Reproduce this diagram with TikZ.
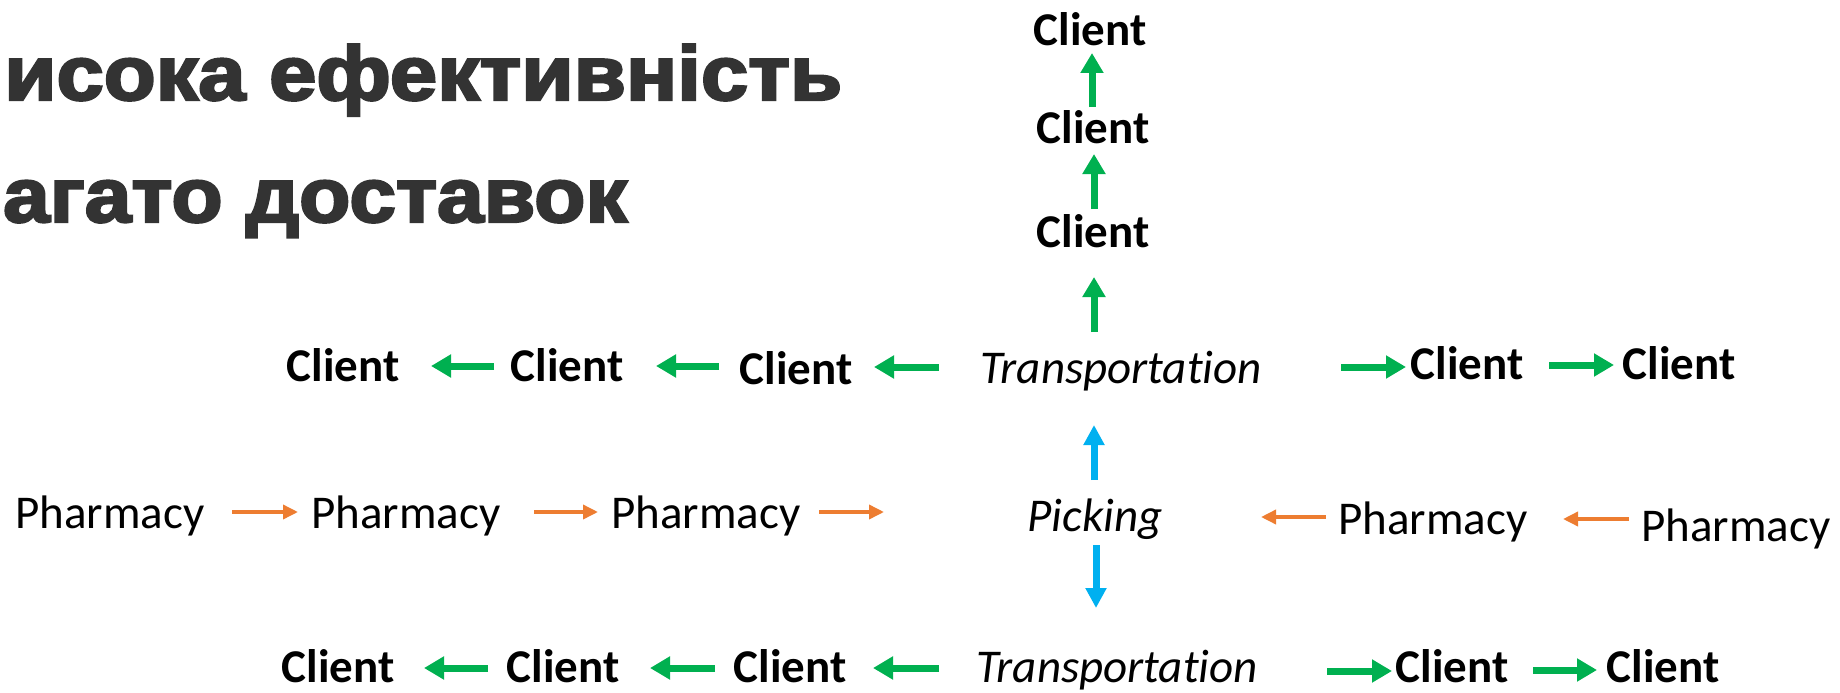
\documentclass[tikz,border=0pt]{standalone}
\usepackage{graphicx}
\usepackage{fontspec}
\setmainfont{Carlito}[Ligatures=NoCommon]
\newfontfamily\titlefont{Liberation Sans}[BoldFeatures={FakeBold=3}]
\usetikzlibrary{arrows.meta}
\definecolor{cgreen}{HTML}{00B050}
\definecolor{cblue}{HTML}{00B0F0}
\definecolor{corange}{HTML}{ED7D31}
\definecolor{ctitle}{HTML}{333333}
\begin{document}
\begin{tikzpicture}[x=1pt,y=-1pt,
  lbl/.style={inner sep=0pt, anchor=base, font=\fontsize{47}{56}\selectfont},
  cl/.style={inner sep=0pt, anchor=base, font=\fontsize{47}{56}\selectfont\bfseries},
  it/.style={inner sep=0pt, anchor=base, font=\fontsize{47}{56}\selectfont\itshape},
  ttl/.style={inner sep=0pt, anchor=base west, text=ctitle},
  garrow/.style={draw=cgreen, line width=7pt, -{Triangle[width=22pt,length=20pt]}},
  barrow/.style={draw=cblue, line width=7pt, -{Triangle[width=20pt,length=20pt]}},
  oarrow/.style={draw=corange, line width=3.5pt, -{Triangle[width=14pt,length=15pt]}}
]
\useasboundingbox (0,0) rectangle (1840,693);

% title
\node[ttl] (t1) at (4,100) {\resizebox{838pt}{\height}{\titlefont\bfseries\fontsize{77}{80}\selectfont исока ефективність}};
\node[ttl] (t2) at (3,222) {\resizebox{624pt}{\height}{\titlefont\bfseries\fontsize{77}{80}\selectfont агато доставок}};

% top column
\node[cl] (c1) at (1090,46) {Client};
\node[cl] (c2) at (1093,143) {Client};
\node[cl] (c3) at (1093,247) {Client};
\node[it] (trT) at (1121,383) {Transportation};

% middle left clients
\node[cl] (mlA) at (343,381) {Client};
\node[cl] (mlB) at (567,381) {Client};
\node[cl] (mlC) at (796,384) {Client};
% middle right clients
\node[cl] (mrA) at (1467,379) {Client};
\node[cl] (mrB) at (1679,379) {Client};

% pharmacy row
\node[lbl] (p1) at (110,528) {Pharmacy};
\node[lbl] (p2) at (406,528) {Pharmacy};
\node[lbl] (p3) at (706,528) {Pharmacy};
\node[it] (pick) at (1095,531) {Picking};
\node[lbl] (p4) at (1433,534) {Pharmacy};
\node[lbl] (p5) at (1736,541) {Pharmacy};

% bottom row
\node[cl] (blA) at (338,682) {Client};
\node[cl] (blB) at (563,682) {Client};
\node[cl] (blC) at (790,682) {Client};
\node[it] (trB) at (1117,682) {Transportation};
\node[cl] (brA) at (1452,682) {Client};
\node[cl] (brB) at (1663,682) {Client};

% arrow end points
\path (1092,107) coordinate (v1s) (1092,53) coordinate (v1e)
      (1094,209) coordinate (v2s) (1094,154) coordinate (v2e)
      (1094,332) coordinate (v3s) (1094,277) coordinate (v3e);
\path (494,366) coordinate (ml1s) (431,366) coordinate (ml1e)
      (719,366) coordinate (ml2s) (656,366) coordinate (ml2e)
      (939,367) coordinate (ml3s) (874,367) coordinate (ml3e);
\path (1341,367) coordinate (mr1s) (1406,367) coordinate (mr1e)
      (1549,365) coordinate (mr2s) (1614,365) coordinate (mr2e);
\path (232,512) coordinate (o1s) (298,512) coordinate (o1e)
      (534,512) coordinate (o2s) (598,512) coordinate (o2e)
      (819,512) coordinate (o3s) (884,512) coordinate (o3e)
      (1326,517) coordinate (o4s) (1261,517) coordinate (o4e)
      (1629,519) coordinate (o5s) (1563,519) coordinate (o5e);
\path (1094,480) coordinate (b1s) (1094,425) coordinate (b1e)
      (1096,545) coordinate (b2s) (1096,608) coordinate (b2e);
\path (488,668) coordinate (bl1s) (424,668) coordinate (bl1e)
      (715,668) coordinate (bl2s) (650,668) coordinate (bl2e)
      (939,668) coordinate (bl3s) (873,668) coordinate (bl3e)
      (1327,671) coordinate (br1s) (1392,671) coordinate (br1e)
      (1533,670) coordinate (br2s) (1597,670) coordinate (br2e);

% green arrows
\draw[garrow] (v1s) -- (v1e);
\draw[garrow] (v2s) -- (v2e);
\draw[garrow] (v3s) -- (v3e);
\draw[garrow] (ml1s) -- (ml1e);
\draw[garrow] (ml2s) -- (ml2e);
\draw[garrow] (ml3s) -- (ml3e);
\draw[garrow] (mr1s) -- (mr1e);
\draw[garrow] (mr2s) -- (mr2e);
\draw[garrow] (bl1s) -- (bl1e);
\draw[garrow] (bl2s) -- (bl2e);
\draw[garrow] (bl3s) -- (bl3e);
\draw[garrow] (br1s) -- (br1e);
\draw[garrow] (br2s) -- (br2e);
% blue arrows
\draw[barrow] (b1s) -- (b1e);
\draw[barrow] (b2s) -- (b2e);
% orange arrows
\draw[oarrow] (o1s) -- (o1e);
\draw[oarrow] (o2s) -- (o2e);
\draw[oarrow] (o3s) -- (o3e);
\draw[oarrow] (o4s) -- (o4e);
\draw[oarrow] (o5s) -- (o5e);
\end{tikzpicture}
\end{document}
